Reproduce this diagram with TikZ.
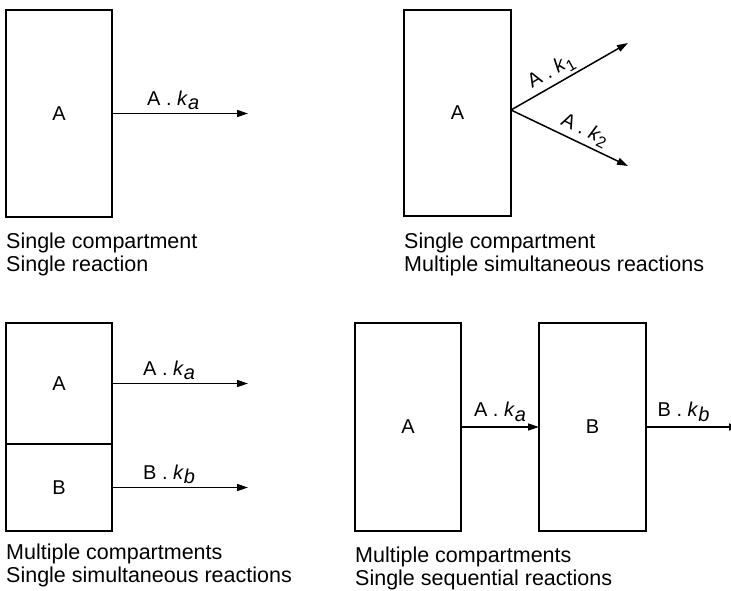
\documentclass[tikz,border=0pt]{standalone}
\usepackage{fontspec}
\usepackage{graphicx}
\setmainfont{Liberation Sans}
\usetikzlibrary{arrows.meta,positioning}
\newcommand{\krate}[2]{#1 . \textit{k}\raisebox{-0.22em}{#2}}

\begin{document}
\begin{tikzpicture}[x=1pt,y=-1pt,
  comp/.style={draw, line width=1.5pt, minimum width=106pt, inner sep=0pt, outer sep=0pt, font=\fontsize{20}{22}\selectfont},
  flow/.style={line width=1.5pt, -{Triangle[length=11pt,width=7pt]}},
  rate/.style={font=\fontsize{20}{22}\selectfont, inner sep=3pt},
  note/.style={align=left, anchor=base west, inner sep=0pt, font=\fontsize{21.5}{23}\selectfont}]
\useasboundingbox (0,0) rectangle (731,591);

\node[comp, minimum height=207pt] (a1) at (59,113.5) {A};
\coordinate (e1) at (248,113.5);
\draw[flow] (a1.east) -- node[rate, above, pos=0.45] {\krate{A}{\textit{a}}} (e1);
\node[note] (c1) at (6,271.7) {Single compartment\\Single reaction};

\node[comp, minimum width=107pt, minimum height=206pt] (a2) at (457.5,113) {A};
\coordinate (u2) at (628,43);
\coordinate (d2) at (628,166);
\draw[flow] ([yshift=3pt]a2.east) -- node[rate, above, sloped, pos=0.4] {\krate{A}{\scalebox{0.8}{1}}} (u2);
\draw[flow] ([yshift=3pt]a2.east) -- node[rate, above, sloped, pos=0.58] {\krate{A}{\scalebox{0.8}{2}}} (d2);
\node[note] (c2) at (404,271.7) {Single compartment\\Multiple simultaneous reactions};

\node[comp, minimum height=121pt] (a3) at (59,383.5) {A};
\node[comp, minimum height=87pt, below=0pt of a3] (b3) {B};
\coordinate (ea3) at (248,383.5);
\coordinate (eb3) at (248,487.5);
\draw[flow] (a3.east) -- node[rate, above, pos=0.42] {\krate{A}{\textit{a}}} (ea3);
\draw[flow] (b3.east) -- node[rate, above, pos=0.42] {\krate{B}{\textit{b}}} (eb3);
\node[note] (c3) at (6,582.5) {Multiple compartments\\Single simultaneous reactions};

\node[comp, minimum height=208pt] (a4) at (408,427) {A};
\node[comp, minimum width=107pt, minimum height=208pt, right=78pt of a4] (b4) {B};
\coordinate (e4) at (740,427);
\draw[flow] (a4) -- node[rate, above=2pt, pos=0.5] {\krate{A}{\textit{a}}} (b4);
\draw[flow] (b4.east) -- node[rate, above=2pt, pos=0.4] {\krate{B}{\textit{b}}} (e4);
\node[note] (c4) at (355,585.3) {Multiple compartments\\Single sequential reactions};
\end{tikzpicture}
\end{document}
